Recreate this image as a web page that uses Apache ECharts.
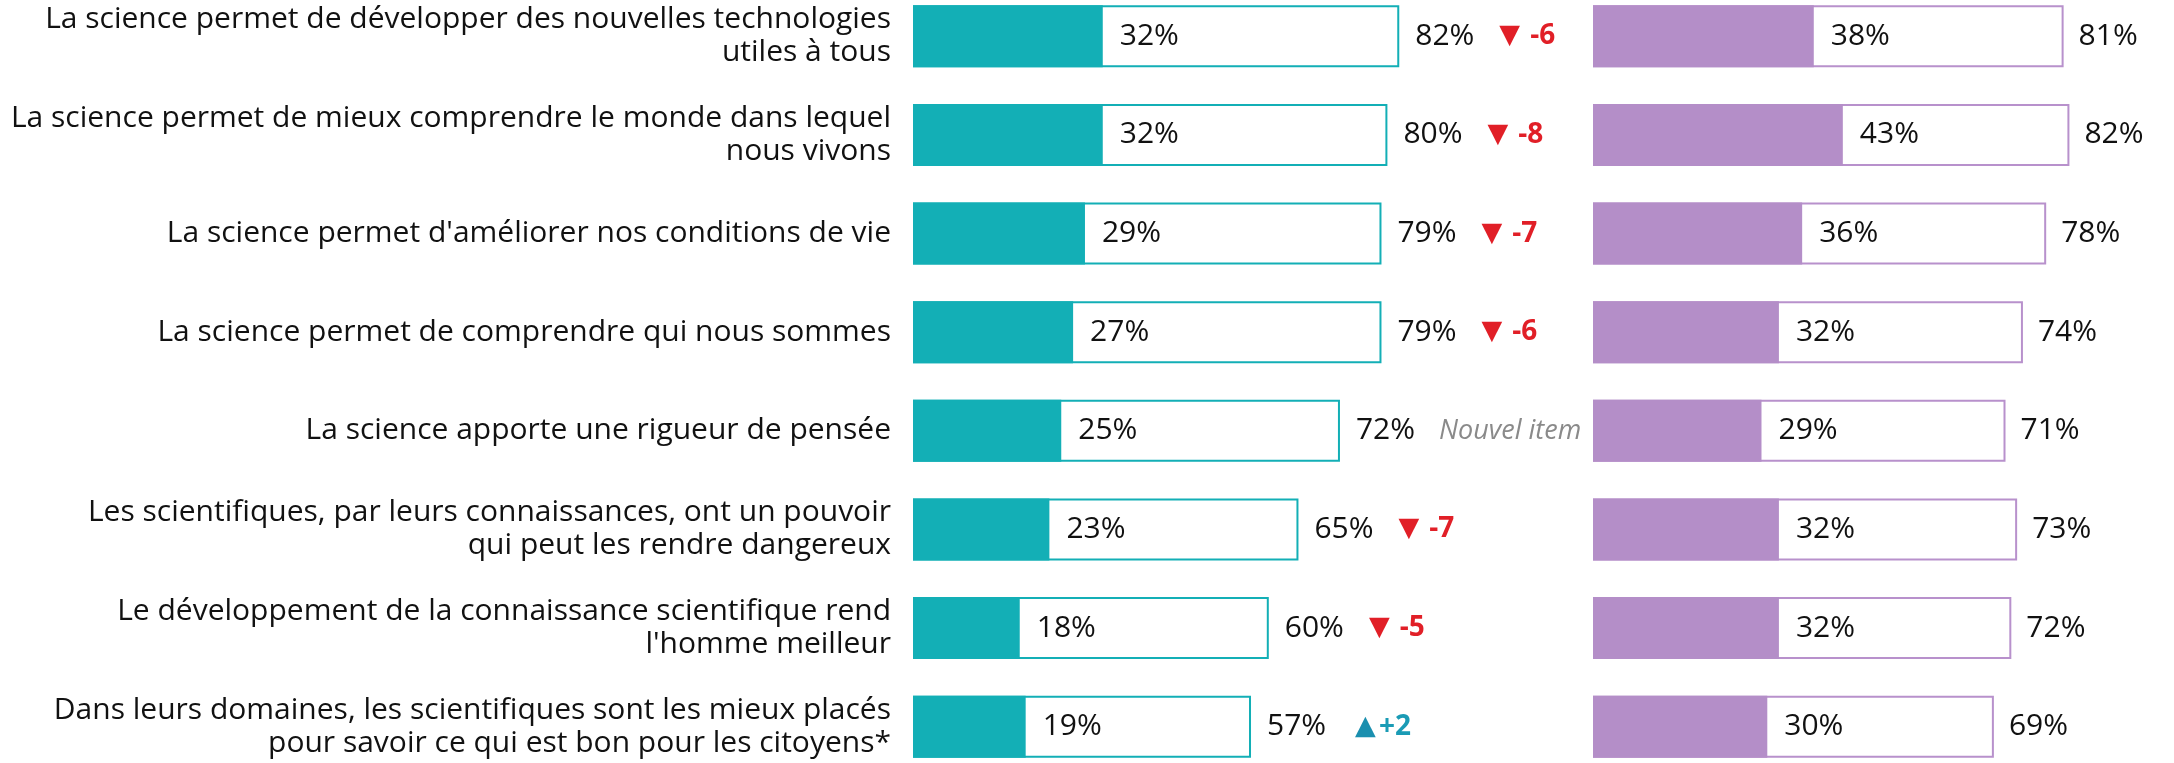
<!DOCTYPE html>
<html>
<head>
<meta charset="utf-8">
<style>
  html, body { margin: 0; padding: 0; background: #fff; overflow: hidden; }
  #chart { position: absolute; left: 0; top: -13px; width: 2174px; height: 789px; }
</style>
</head>
<body>
<div id="chart"></div>
<script src="https://cdn.jsdelivr.net/npm/echarts@6/dist/echarts.min.js"></script>
<script>
// libellés des items
var categories = [
    "La science permet de développer des nouvelles technologies\nutiles à tous",
    "La science permet de mieux comprendre le monde dans lequel\nnous vivons",
    "La science permet d'améliorer nos conditions de vie",
    "La science permet de comprendre qui nous sommes",
    "La science apporte une rigueur de pensée",
    "Les scientifiques, par leurs connaissances, ont un pouvoir\nqui peut les rendre dangereux",
    "Le développement de la connaissance scientifique rend\nl'homme meilleur",
    "Dans leurs domaines, les scientifiques sont les mieux placés\npour savoir ce qui est bon pour les citoyens*"
];
// panneau gauche (turquoise)
var leftTop = [32, 32, 29, 27, 25, 23, 18, 19];
var leftTotal = [82, 80, 79, 79, 72, 65, 60, 57];
var leftDelta = [-6, -8, -7, -6, null, -7, -5, 2];
// panneau droit (violet)
var rightTop = [38, 43, 36, 32, 29, 32, 32, 30];
var rightTotal = [81, 82, 78, 74, 71, 73, 72, 69];

var chart = echarts.init(document.getElementById('chart'));

var font = 'Open Sans';
var teal = '#13AFB6';
var purple = '#B48EC8';
var red = '#E11F27';
var up = '#1A8FAF';

function leftTotalLabel(p) {
    var i = p.dataIndex;
    var d = leftDelta[i];
    var s = '{t|' + p.value + '%}';
    if (d === null) {
        return s + '{n|Nouvel item}';
    }
    if (d < 0) {
        return s + '{dn|▼}{dv|' + d + '}';
    }
    return s + '{up|▲}{uv|+' + d + '}';
}

var option = {
    animation: false,
    grid: [
        { left: 913, top: 0, width: 593, bottom: 0 },
        { left: 1593, top: 0, width: 593, bottom: 0 }
    ],
    xAxis: [
        { gridIndex: 0, type: 'value', min: 0, max: 100, show: false },
        { gridIndex: 1, type: 'value', min: 0, max: 100, show: false }
    ],
    yAxis: [
        {
            gridIndex: 0,
            type: 'category',
            inverse: true,
            data: categories,
            axisLine: { show: false },
            axisTick: { show: false },
            axisLabel: {
                margin: 22,
                fontFamily: font,
                fontSize: 30,
                lineHeight: 33,
                color: '#111'
            }
        },
        {
            gridIndex: 1,
            type: 'category',
            inverse: true,
            data: categories,
            axisLine: { show: false },
            axisTick: { show: false },
            axisLabel: { show: false }
        }
    ],
    series: [
        {
            type: 'bar',
            xAxisIndex: 0,
            yAxisIndex: 0,
            data: leftTotal,
            barWidth: 62,
            barGap: '-100%',
            itemStyle: { color: '#fff', borderColor: teal, borderWidth: 2 },
            label: {
                show: true,
                position: 'right',
                distance: 16,
                formatter: leftTotalLabel,
                rich: {
                    t: { fontFamily: font, fontSize: 30, color: '#111' },
                    n: { fontFamily: font, fontSize: 27, fontStyle: 'italic', color: '#8a8a8a', padding: [0, 0, 0, 24] },
                    dn: { fontFamily: 'DejaVu Sans', fontSize: 27, color: red, padding: [0, 0, 0, 25] },
                    dv: { fontFamily: font, fontSize: 28, fontWeight: 'bold', color: red, padding: [0, 0, 0, 10] },
                    up: { fontFamily: 'DejaVu Sans', fontSize: 27, color: up, padding: [0, 0, 0, 29] },
                    uv: { fontFamily: font, fontSize: 28, fontWeight: 'bold', color: '#1A9BB5', padding: [0, 0, 0, 3] }
                }
            }
        },
        {
            type: 'bar',
            xAxisIndex: 0,
            yAxisIndex: 0,
            data: leftTop,
            barWidth: 62,
            barGap: '-100%',
            itemStyle: { color: teal },
            label: {
                show: true,
                position: 'right',
                distance: 17,
                formatter: '{c}%',
                fontFamily: font,
                fontSize: 30,
                color: '#111'
            }
        },
        {
            type: 'bar',
            xAxisIndex: 1,
            yAxisIndex: 1,
            data: rightTotal,
            barWidth: 62,
            barGap: '-100%',
            itemStyle: { color: '#fff', borderColor: '#B891CC', borderWidth: 2 },
            label: {
                show: true,
                position: 'right',
                distance: 15,
                formatter: '{c}%',
                fontFamily: font,
                fontSize: 30,
                color: '#111'
            }
        },
        {
            type: 'bar',
            xAxisIndex: 1,
            yAxisIndex: 1,
            data: rightTop,
            barWidth: 62,
            barGap: '-100%',
            itemStyle: { color: purple },
            label: {
                show: true,
                position: 'right',
                distance: 17,
                formatter: '{c}%',
                fontFamily: font,
                fontSize: 30,
                color: '#111'
            }
        }
    ]
};

chart.setOption(option);
</script>
</body>
</html>
